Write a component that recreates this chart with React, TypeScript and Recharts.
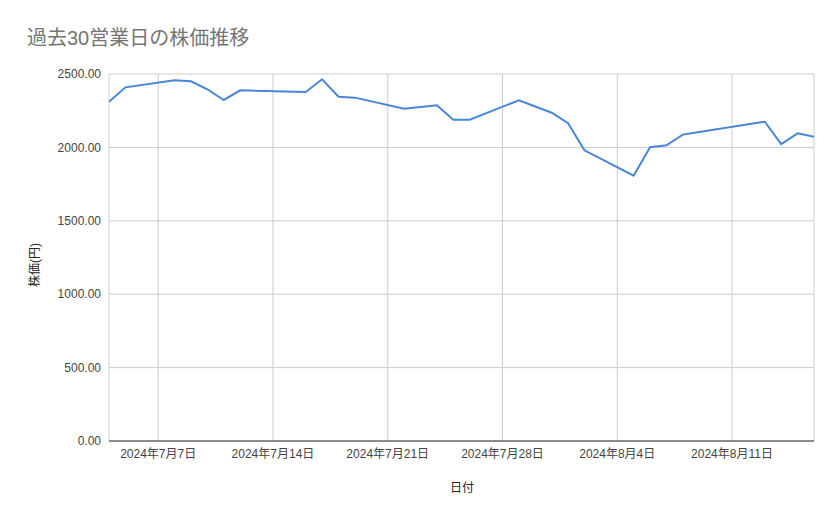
import { CartesianGrid, Line, LineChart, XAxis, YAxis } from "recharts";

// 過去30営業日 (土日・祝日を除く)
const dates = [
  "2024-07-04", "2024-07-05", "2024-07-08", "2024-07-09", "2024-07-10",
  "2024-07-11", "2024-07-12", "2024-07-16", "2024-07-17", "2024-07-18",
  "2024-07-19", "2024-07-22", "2024-07-23", "2024-07-24", "2024-07-25",
  "2024-07-26", "2024-07-29", "2024-07-30", "2024-07-31", "2024-08-01",
  "2024-08-02", "2024-08-05", "2024-08-06", "2024-08-07", "2024-08-08",
  "2024-08-09", "2024-08-13", "2024-08-14", "2024-08-15", "2024-08-16",
];

const prices = [
  2311, 2409, 2457, 2450, 2396,
  2323, 2389, 2377, 2464, 2345,
  2339, 2264, 2276, 2287, 2189,
  2189, 2321, 2279, 2236, 2165,
  1980, 1807, 2001, 2014, 2087,
  2105, 2175, 2023, 2096, 2073,
];

const dateTicks = ["2024-07-07", "2024-07-14", "2024-07-21", "2024-07-28", "2024-08-04", "2024-08-11"];
const priceTicks = [0, 500, 1000, 1500, 2000, 2500];

const toTs = (d: string) => Date.parse(d + "T00:00:00Z");

const fmtDate = (t: number) => {
  const d = new Date(t);
  return `${d.getUTCFullYear()}年${d.getUTCMonth() + 1}月${d.getUTCDate()}日`;
};

const FONT = '"Liberation Sans", Arial, "Noto Sans CJK JP", sans-serif';

export default function App() {
  const rows = dates.map((d, i) => ({ t: toTs(d), price: prices[i] }));

  return (
    <div
      style={{
        position: "absolute",
        left: 0,
        top: 0,
        width: 839,
        height: 519,
        background: "#fff",
        fontFamily: FONT,
      }}
    >
      <div
        style={{
          position: "absolute",
          left: 27,
          top: 26,
          fontSize: 20,
          lineHeight: "24px",
          color: "#757575",
          whiteSpace: "nowrap",
        }}
      >
        過去30営業日の株価推移
      </div>
      <div
        style={{
          position: "absolute",
          left: 33,
          top: 265,
          transform: "translate(-50%, -50%) rotate(-90deg)",
          fontSize: 12,
          color: "#222",
          whiteSpace: "nowrap",
        }}
      >
        株価(円)
      </div>
      <div
        style={{
          position: "absolute",
          left: 462,
          top: 486,
          transform: "translate(-50%, -50%)",
          fontSize: 12,
          color: "#222",
          whiteSpace: "nowrap",
        }}
      >
        日付
      </div>
      <LineChart
        width={839}
        height={519}
        data={rows}
        margin={{ top: 74, right: 25, left: 0, bottom: 0 }}
        style={{ fontFamily: FONT }}
      >
        <CartesianGrid stroke="#cccccc" />
        <XAxis
          dataKey="t"
          type="number"
          domain={[toTs(dates[0]), toTs(dates[dates.length - 1])]}
          ticks={dateTicks.map(toTs)}
          tickFormatter={fmtDate}
          height={78}
          tickLine={false}
          axisLine={{ stroke: "#333333" }}
          tick={{ fill: "#444444", fontSize: 12 }}
          allowDataOverflow
        />
        <YAxis
          type="number"
          domain={[0, 2500]}
          ticks={priceTicks}
          tickFormatter={(v: number) => v.toFixed(2)}
          width={109}
          tickLine={false}
          axisLine={false}
          tick={{ fill: "#444444", fontSize: 12 }}
        />
        <Line
          type="linear"
          dataKey="price"
          stroke="#4a86d8"
          strokeWidth={2}
          dot={false}
          isAnimationActive={false}
        />
      </LineChart>
    </div>
  );
}
